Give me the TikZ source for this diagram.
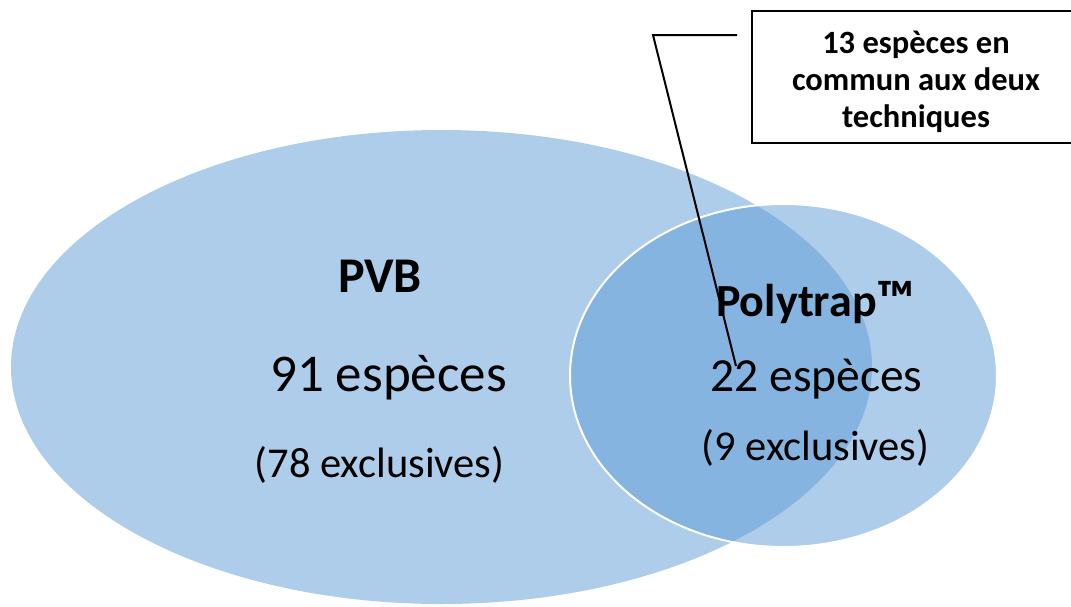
\documentclass[tikz,border=0pt]{standalone}
\usepackage{fontspec}
\setmainfont{Carlito}
\usetikzlibrary{shapes.geometric}
\definecolor{venn}{HTML}{5B9BD5}
\tikzset{
  vset/.style={ellipse, inner sep=0pt, outer sep=0pt, fill=venn, fill opacity=0.5, text opacity=1},
  lbl/.style={anchor=base, inner sep=0pt, text=black},
  callout/.style={draw=black, line width=1.8pt, fill=white, inner sep=0pt},
  callouttext/.style={align=center, inner sep=0pt, text=black,
    font=\fontsize{32.5}{37}\selectfont\bfseries},
  leader/.style={draw=black, line width=2pt}
}
\begin{document}
\begin{tikzpicture}[x=1pt,y=-1pt]
\useasboundingbox (0,0) rectangle (1071,606);
\node[vset, minimum width=861pt, minimum height=474pt] (pvb) at (441.5,367) {};
\node[vset, draw=white, line width=2pt, minimum width=427pt, minimum height=343pt] (poly) at (783.5,375.5) {};
\node[callout, minimum width=328pt, minimum height=132pt] (box) at (916,77) {};
\node[callouttext] (boxtxt) at (916,82) {13 espèces en\\commun aux deux\\techniques};
\coordinate (c1) at (737,35);
\coordinate (c2) at (653,35);
\coordinate (tip) at (736,366);
\draw[leader] (c1) -- (c2) -- (tip);
\node[lbl, font=\fontsize{50}{52}\selectfont\bfseries] (t1) at (380,292.7) {PVB};
\node[lbl, font=\fontsize{53}{55}\selectfont] (t2) at (388.5,391.7) {91 espèces};
\node[lbl, font=\fontsize{42.5}{44}\selectfont] (t3) at (379.5,477) {(78 exclusives)};
\node[lbl, font=\fontsize{46}{48}\selectfont\bfseries] (t4) at (815.5,316.7) {Polytrap\raisebox{-0.5pt}{\scalebox{1.15}{™}}};
\node[lbl, font=\fontsize{47.5}{49}\selectfont] (t5) at (816.5,391.7) {22 espèces};
\node[lbl, font=\fontsize{42.5}{44}\selectfont] (t6) at (815.5,460) {(9 exclusives)};
\end{tikzpicture}
\end{document}
